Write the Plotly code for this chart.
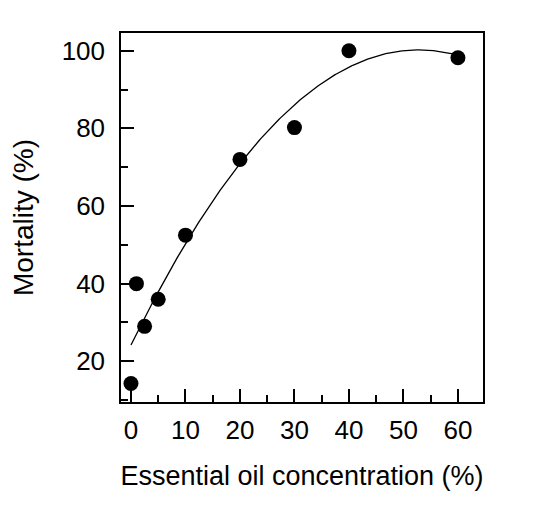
import numpy as np
import plotly.graph_objects as go

concentration = [0, 1, 2.5, 5, 10, 20, 30, 40, 60]
mortality = [14.3, 40, 29, 36, 52.5, 72, 80.2, 100, 98.2]
x_ticks = [0, 10, 20, 30, 40, 50, 60]
y_ticks = [20, 40, 60, 80, 100]

coef = np.polyfit(concentration, mortality, 2)
xf = np.linspace(min(concentration), max(concentration), 200)
yf = np.polyval(coef, xf)

font = "Liberation Sans, Arial, sans-serif"

fig = go.Figure()
fig.add_trace(go.Scatter(x=xf, y=yf, mode="lines",
                         line=dict(color="black", width=1.3), showlegend=False))
fig.add_trace(go.Scatter(x=concentration, y=mortality, mode="markers",
                         marker=dict(color="black", size=15, line=dict(width=0)),
                         showlegend=False))

fig.update_layout(
    width=540, height=514,
    margin=dict(l=121, r=57, t=33, b=112),
    paper_bgcolor="white", plot_bgcolor="white",
    font=dict(family=font, size=26, color="black"),
)
fig.update_xaxes(
    range=[-1.83, 64.6], tickvals=x_ticks, ticks="inside", ticklen=13, tickwidth=1.5,
    tickcolor="black", minor=dict(dtick=5, ticks="inside", ticklen=7, tickwidth=1.5, tickcolor="black"),
    showline=True, linecolor="black", linewidth=1.5, mirror=True, showgrid=False, zeroline=False,
    tickfont=dict(size=26), ticklabelstandoff=4,
    title=dict(text="Essential oil concentration (%)", font=dict(size=27), standoff=22),
)
fig.update_yaxes(
    range=[9.52, 104.56], tickvals=y_ticks, ticks="inside", ticklen=13, tickwidth=1.5,
    tickcolor="black", minor=dict(dtick=10, ticks="inside", ticklen=7, tickwidth=1.5, tickcolor="black"),
    showline=True, linecolor="black", linewidth=1.5, mirror=True, showgrid=False, zeroline=False,
    tickfont=dict(size=26), ticklabelstandoff=9,
    title=dict(text="Mortality (%)", font=dict(size=28), standoff=20),
)
fig.write_html("out.html", config={"displayModeBar": False},
               post_script="document.body.style.margin='0';")
